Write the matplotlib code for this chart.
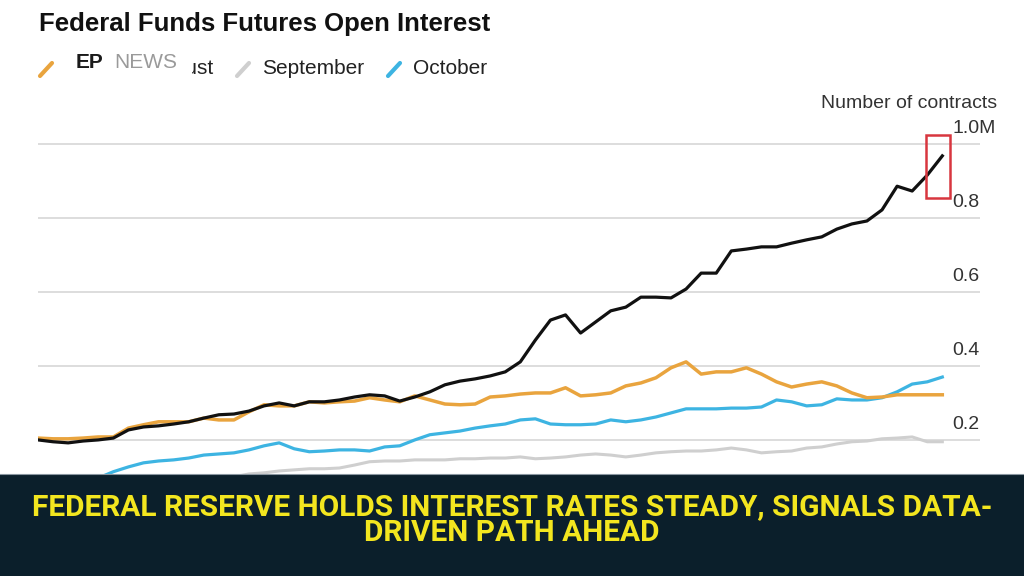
import matplotlib
matplotlib.use('Agg')
import matplotlib.pyplot as plt
from matplotlib.patches import Rectangle
from matplotlib.lines import Line2D

plt.rcParams['font.family'] = ['Liberation Sans', 'DejaVu Sans']

# weekly open interest, millions of contracts
total = [0.200, 0.195, 0.192, 0.197, 0.200, 0.205, 0.227, 0.235, 0.238, 0.243,
         0.249, 0.259, 0.268, 0.270, 0.278, 0.292, 0.300, 0.292, 0.303, 0.303,
         0.308, 0.316, 0.322, 0.319, 0.305, 0.316, 0.330, 0.349, 0.359, 0.365,
         0.373, 0.384, 0.411, 0.470, 0.524, 0.538, 0.489, 0.519, 0.549, 0.559,
         0.586, 0.586, 0.584, 0.608, 0.651, 0.651, 0.711, 0.716, 0.722, 0.722,
         0.732, 0.741, 0.749, 0.770, 0.784, 0.792, 0.822, 0.886, 0.873, 0.916,
         0.968]
august = [0.205, 0.203, 0.203, 0.205, 0.208, 0.208, 0.232, 0.241, 0.249, 0.249,
          0.249, 0.259, 0.254, 0.254, 0.276, 0.295, 0.292, 0.292, 0.303, 0.300,
          0.303, 0.305, 0.314, 0.308, 0.303, 0.319, 0.308, 0.297, 0.295, 0.297,
          0.316, 0.319, 0.324, 0.327, 0.327, 0.341, 0.319, 0.322, 0.327, 0.346,
          0.354, 0.368, 0.395, 0.411, 0.378, 0.384, 0.384, 0.395, 0.378, 0.357,
          0.343, 0.351, 0.357, 0.346, 0.327, 0.314, 0.316, 0.322, 0.322, 0.322,
          0.322]
september = [0.050, 0.055, 0.060, 0.062, 0.065, 0.070, 0.072, 0.075, 0.080, 0.082,
             0.085, 0.090, 0.095, 0.100, 0.108, 0.111, 0.116, 0.119, 0.122, 0.122,
             0.124, 0.132, 0.141, 0.143, 0.143, 0.146, 0.146, 0.146, 0.149, 0.149,
             0.151, 0.151, 0.154, 0.149, 0.151, 0.154, 0.159, 0.162, 0.159, 0.154,
             0.159, 0.165, 0.168, 0.170, 0.170, 0.173, 0.178, 0.173, 0.165, 0.168,
             0.170, 0.178, 0.181, 0.189, 0.195, 0.197, 0.203, 0.205, 0.208, 0.195,
             0.195]
october = [0.070, 0.075, 0.080, 0.090, 0.097, 0.114, 0.127, 0.138, 0.143, 0.146,
           0.151, 0.159, 0.162, 0.165, 0.173, 0.184, 0.192, 0.176, 0.168, 0.170,
           0.173, 0.173, 0.170, 0.181, 0.184, 0.200, 0.214, 0.219, 0.224, 0.232,
           0.238, 0.243, 0.254, 0.257, 0.243, 0.241, 0.241, 0.243, 0.254, 0.249,
           0.254, 0.262, 0.273, 0.284, 0.284, 0.284, 0.286, 0.286, 0.289, 0.308,
           0.303, 0.292, 0.295, 0.311, 0.308, 0.308, 0.314, 0.330, 0.351, 0.357,
           0.370]
weeks = list(range(len(total)))
yticks = [0.2, 0.4, 0.6, 0.8, 1.0]
ytick_labels = ['0.2', '0.4', '0.6', '0.8', '1.0M']

W, H = 1024, 576
fig = plt.figure(figsize=(W / 100, H / 100), dpi=100, facecolor='white')

# main plot
ax = fig.add_axes([38 / W, 0, (980 - 38) / W, (576 - 130) / H])
ax.set_xlim(0, 62.5)
ax.set_ylim(-0.168, 1.038)
for v in yticks:
    ax.axhline(v, color='#dadada', lw=1.3, zorder=1)
ax.plot(weeks, september, color='#cfcfcf', lw=2.2, zorder=2)
ax.plot(weeks, october, color='#3db4e2', lw=2.3, zorder=3)
ax.plot(weeks, august, color='#e9a43e', lw=2.5, zorder=4)
ax.plot(weeks, total, color='#111111', lw=2.3, zorder=5)
for v, lab in zip(yticks, ytick_labels):
    ax.annotate(lab, (60.65, v), xytext=(0, 11), textcoords='offset points',
                ha='left', va='center', fontsize=14, color='#333333',
                annotation_clip=False)
ax.add_patch(Rectangle((58.9, 0.854), 1.6, 0.170, fill=False,
                       edgecolor='#d8363f', lw=1.8, zorder=6, clip_on=False))
ax.axis('off')

# overlay in pixel coordinates: title, legend, banner
ov = fig.add_axes([0, 0, 1, 1], zorder=5)
ov.set_xlim(0, W)
ov.set_ylim(H, 0)
ov.axis('off')

ov.text(39, 24, 'Federal Funds Futures Open Interest', fontsize=18.5,
        fontweight='bold', color='#111111', ha='left', va='center')
ov.text(997, 104, 'Number of contracts', fontsize=14, color='#333333',
        ha='right', va='center')

leg = [(40, '#e9a43e', None), (237, '#cfcfcf', 'September'), (388, '#3db4e2', 'October')]
for x0, c, lab in leg:
    ov.add_line(Line2D([x0, x0 + 12], [76, 63], color=c, lw=3, solid_capstyle='round'))
    if lab:
        ov.text(x0 + 25, 69, lab, fontsize=15, color='#222222', ha='left', va='center')
ov.text(214, 69, 'August', fontsize=15, color='#222222', ha='right', va='center', zorder=3)

# watermark over the legend
ov.add_patch(Rectangle((62, 46), 130, 40, facecolor='white', edgecolor='none', zorder=4))
ov.text(76, 63, 'EP', fontsize=15, fontweight='bold', color='#1a1a1a',
        ha='left', va='center', zorder=5)
ov.text(114, 63, 'NEWS', fontsize=15, color='#9a9a9a',
        ha='left', va='center', zorder=5)

# headline banner
ov.add_patch(Rectangle((0, 474), W, H - 474, facecolor='#0b1f2b', edgecolor='none', zorder=6))
ov.add_line(Line2D([0, W], [474, 474], color='#8a96a0', lw=0.8, zorder=7))
bfont = ['Roboto', 'DejaVu Sans']
ov.text(512, 507, 'FEDERAL RESERVE HOLDS INTEREST RATES STEADY, SIGNALS DATA-',
        fontsize=21.5, fontweight='bold', color='#f3e61f', ha='center', va='center',
        family=bfont, zorder=8)
ov.text(512, 533, 'DRIVEN PATH AHEAD', fontsize=21.5, fontweight='bold',
        color='#f3e61f', ha='center', va='center', family=bfont, zorder=8)

fig.savefig('out.png', dpi=100, facecolor='white')
